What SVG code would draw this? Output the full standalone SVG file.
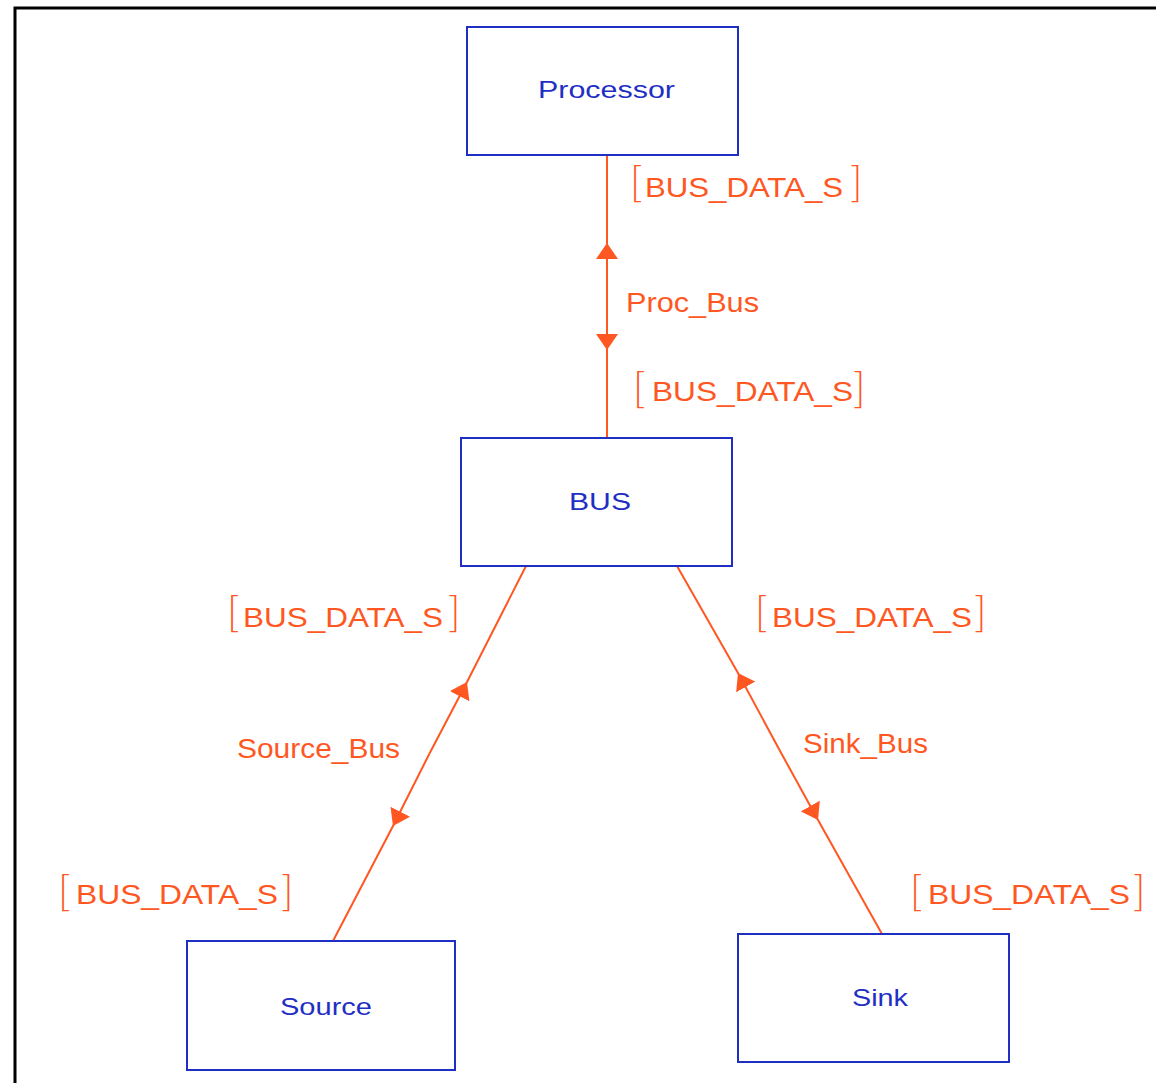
<svg xmlns="http://www.w3.org/2000/svg" width="1156" height="1083" viewBox="0 0 1156 1083">
<style>
.node rect{fill:#ffffff;stroke:#1f2fc4;stroke-width:2}
.node text{font-family:"Liberation Sans",Arial,sans-serif;font-size:24px;fill:#1f2fc4}
.conn{stroke:#ff5722;stroke-width:2;fill:none}
.lbl{font-family:"Liberation Sans",Arial,sans-serif;font-size:28px;fill:#ff5722}
.name{font-family:"Liberation Sans",Arial,sans-serif;font-size:27px;fill:#ff5722}
.br{font-family:Lato,"Liberation Sans",sans-serif;font-weight:300;font-size:42px}
</style>
<defs>
<marker id="arr" markerUnits="userSpaceOnUse" viewBox="0 0 16 22" refX="16" refY="11" markerWidth="16" markerHeight="22" orient="auto">
<path d="M0,0 L16,11 L0,22 Z" fill="#ff5722"/>
</marker>
</defs>
<rect x="0" y="0" width="1156" height="1083" fill="#ffffff"/>
<path d="M15,1083 V8 H1156" fill="none" stroke="#000" stroke-width="3"/>

<g id="connectors">
<g id="Proc_Bus">
<path class="conn" d="M607,296 L607,243 L607,155" marker-mid="url(#arr)"/>
<path class="conn" d="M607,296 L607,350 L607,438" marker-mid="url(#arr)"/>
<text class="name" x="626" y="312" textLength="133" lengthAdjust="spacingAndGlyphs">Proc_Bus</text>
</g>
<g id="Source_Bus">
<path class="conn" d="M429.5,753.5 L467,682 L526,566" marker-mid="url(#arr)"/>
<path class="conn" d="M429.5,753.5 L393,826 L333,941" marker-mid="url(#arr)"/>
<text class="name" x="237" y="758" textLength="163" lengthAdjust="spacingAndGlyphs">Source_Bus</text>
</g>
<g id="Sink_Bus">
<path class="conn" d="M779.5,750 L738,673 L677,566" marker-mid="url(#arr)"/>
<path class="conn" d="M779.5,750 L818,820 L882,934" marker-mid="url(#arr)"/>
<text class="name" x="803" y="753" textLength="125" lengthAdjust="spacingAndGlyphs">Sink_Bus</text>
</g>
<text class="lbl"><tspan class="br" x="630" y="197">[</tspan><tspan x="645" y="197" textLength="198" lengthAdjust="spacingAndGlyphs">BUS_DATA_S</tspan><tspan class="br" x="850" y="197">]</tspan></text>
<text class="lbl"><tspan class="br" x="633" y="403">[</tspan><tspan x="652" y="401" textLength="201" lengthAdjust="spacingAndGlyphs">BUS_DATA_S</tspan><tspan class="br" x="853" y="403">]</tspan></text>
<text class="lbl"><tspan class="br" x="227" y="627">[</tspan><tspan x="243" y="627" textLength="200" lengthAdjust="spacingAndGlyphs">BUS_DATA_S</tspan><tspan class="br" x="448" y="627">]</tspan></text>
<text class="lbl"><tspan class="br" x="755" y="627">[</tspan><tspan x="772" y="627" textLength="200" lengthAdjust="spacingAndGlyphs">BUS_DATA_S</tspan><tspan class="br" x="974" y="627">]</tspan></text>
<text class="lbl"><tspan class="br" x="58" y="906">[</tspan><tspan x="76" y="904" textLength="202" lengthAdjust="spacingAndGlyphs">BUS_DATA_S</tspan><tspan class="br" x="281" y="906">]</tspan></text>
<text class="lbl"><tspan class="br" x="910" y="906">[</tspan><tspan x="928" y="904" textLength="202" lengthAdjust="spacingAndGlyphs">BUS_DATA_S</tspan><tspan class="br" x="1133" y="906">]</tspan></text>
</g>

<g id="Processor" class="node">
<rect x="467" y="27" width="271" height="128"/>
<text x="538" y="98" textLength="137" lengthAdjust="spacingAndGlyphs">Processor</text>
</g>
<g id="BUS" class="node">
<rect x="461" y="438" width="271" height="128"/>
<text x="569" y="510" textLength="62" lengthAdjust="spacingAndGlyphs">BUS</text>
</g>
<g id="Source" class="node">
<rect x="187" y="941" width="268" height="129"/>
<text x="280" y="1015" textLength="92" lengthAdjust="spacingAndGlyphs">Source</text>
</g>
<g id="Sink" class="node">
<rect x="738" y="934" width="271" height="128"/>
<text x="852" y="1006" textLength="56" lengthAdjust="spacingAndGlyphs">Sink</text>
</g>
</svg>
